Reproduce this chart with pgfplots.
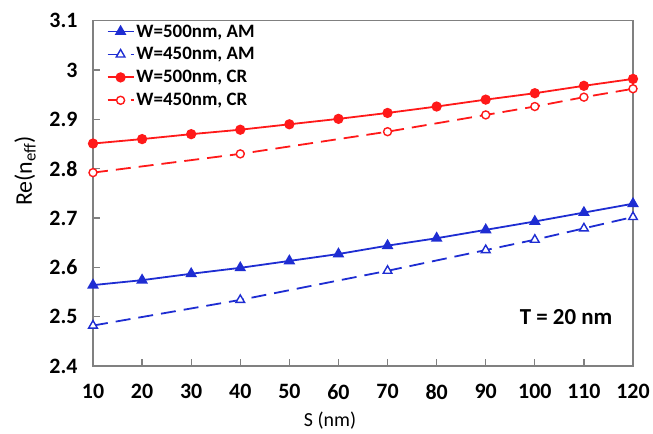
\documentclass[border=0pt]{standalone}
\usepackage{fontspec}
\setmainfont{Carlito}
\usepackage{pgfplots}
\pgfplotsset{compat=1.18}
\definecolor{cblue}{RGB}{30,45,210}
\definecolor{cred}{RGB}{255,25,25}
\definecolor{axgray}{RGB}{128,128,128}
\begin{document}
\begin{tikzpicture}
\useasboundingbox (0,0) rectangle (653bp,434bp);
\begin{axis}[
  at={(93bp,68bp)}, anchor=south west,
  scale only axis, width=540bp, height=345.3bp,
  xmin=10, xmax=120, ymin=2.4, ymax=3.1,
  clip=false,
  xtick={10,20,30,40,50,60,70,80,90,100,110,120},
  ytick={2.4,2.5,2.6,2.7,2.8,2.9,3.0,3.1},
  yticklabels={2.4,2.5,2.6,2.7,2.8,2.9,3,3.1},
  /pgf/number format/assume math mode=true,
  ticklabel style={font=\bfseries\fontsize{22}{26}\selectfont},
  xticklabel style={yshift=-15bp},
  yticklabel style={xshift=-12bp},
  axis line style={axgray, line width=1.3bp},
  major tick style={axgray, line width=1.3bp},
  major tick length=7bp,
  tick align=inside, xtick pos=bottom, ytick pos=left,
  xlabel={S (nm)},
  xlabel style={font=\fontsize{20}{24}\selectfont, at={(axis description cs:0.439,-0.158)}, anchor=center},
  ylabel={Re(n\textsubscript{eff})},
  ylabel style={font=\fontsize{24}{28}\selectfont, at={(axis description cs:-0.126,0.565)}, anchor=center},
  legend style={draw=none, fill=none, at={(axis description cs:0.025,0.995)}, anchor=north west,
    font=\bfseries\fontsize{19}{22}\selectfont, row sep=5bp, inner sep=0pt, nodes={inner sep=2bp}},
  legend cell align=left,
  legend image code/.code={\draw[mark repeat=2,mark phase=2,#1] plot coordinates {(0bp,0bp)(13bp,0bp)(26bp,0bp)};},
]
\addplot[cblue, line width=1.8bp, mark=triangle*, mark size=5bp, mark options={solid}] coordinates {
(10,2.564)(20,2.574)(30,2.587)(40,2.599)(50,2.613)(60,2.627)(70,2.644)(80,2.659)(90,2.676)(100,2.693)(110,2.711)(120,2.729)};
\addlegendentry{W=500nm, AM}
\addplot[cblue, line width=1.8bp, dash pattern=on 15bp off 8bp, mark=triangle*, mark size=5bp, mark options={solid, fill=white, line width=1.4bp}] coordinates {
(10,2.482)(40,2.534)(70,2.593)(90,2.635)(100,2.656)(110,2.679)(120,2.702)};
\addlegendentry{W=450nm, AM}
\addplot[cred, line width=1.8bp, mark=*, mark size=4.2bp, mark options={solid}] coordinates {
(10,2.851)(20,2.860)(30,2.870)(40,2.879)(50,2.890)(60,2.901)(70,2.913)(80,2.926)(90,2.940)(100,2.953)(110,2.968)(120,2.982)};
\addlegendentry{W=500nm, CR}
\addplot[cred, line width=1.8bp, dash pattern=on 15bp off 8bp, mark=*, mark size=4bp, mark options={solid, fill=white, line width=1.4bp}] coordinates {
(10,2.792)(40,2.830)(70,2.875)(90,2.909)(100,2.926)(110,2.945)(120,2.962)};
\addlegendentry{W=450nm, CR}
\node[font=\bfseries\fontsize{23}{27}\selectfont] at (axis description cs:0.876,0.142) {T = 20 nm};
\end{axis}
\end{tikzpicture}
\end{document}
